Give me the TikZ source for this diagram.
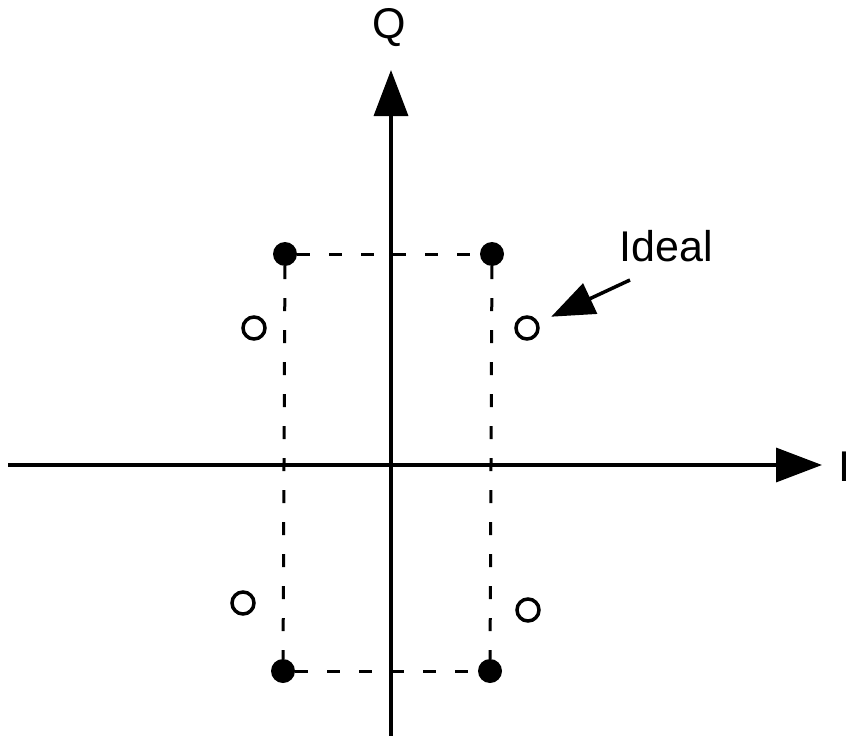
\documentclass[tikz,border=0pt]{standalone}
\usepackage{fontspec}
\setmainfont{Liberation Sans}
\usetikzlibrary{arrows.meta}
\begin{document}
\begin{tikzpicture}[x=1pt,y=-1pt,
  axis/.style={line width=3.5pt,-{Triangle[length=46pt,width=34pt]}},
  filled/.style={circle,fill=black,inner sep=0pt,minimum size=24pt},
  hollow/.style={circle,draw=black,line width=3.5pt,inner sep=0pt,minimum size=22pt},
  guide/.style={line width=3pt,dash pattern=on 13pt off 19pt},
  lbl/.style={font=\fontsize{43}{45}\selectfont,inner sep=0pt}]
\useasboundingbox (0,0) rectangle (847,736);
% axes
\coordinate (xl) at (8,465);
\coordinate (xr) at (822,465);
\coordinate (yb) at (391,736);
\coordinate (yt) at (391,70);
\draw[axis] (xl) -- (xr);
\draw[axis] (yb) -- (yt);
\node[lbl] (Q) at (389,28) {Q};
\node[lbl,anchor=west] (I) at (838,467) {I};
% filled points
\node[filled] (d1) at (285,254) {};
\node[filled] (d2) at (492,254) {};
\node[filled] (d3) at (283,671) {};
\node[filled] (d4) at (490,671) {};
\draw[guide] (d1) -- (d2);
\draw[guide] (d3) -- (d4);
\draw[guide] (d1) -- (d3);
\draw[guide] (d2) -- (d4);
% ideal points
\node[hollow] (o1) at (254,328) {};
\node[hollow] (o2) at (527,328) {};
\node[hollow] (o3) at (243,603) {};
\node[hollow] (o4) at (528,610) {};
% annotation
\node[lbl] (ideal) at (666,246) {Ideal};
\coordinate (ia) at (630,280);
\draw[line width=3.5pt,-{Triangle[length=43pt,width=33pt]},shorten >=14pt] (ia) -- (o2);
\end{tikzpicture}
\end{document}
